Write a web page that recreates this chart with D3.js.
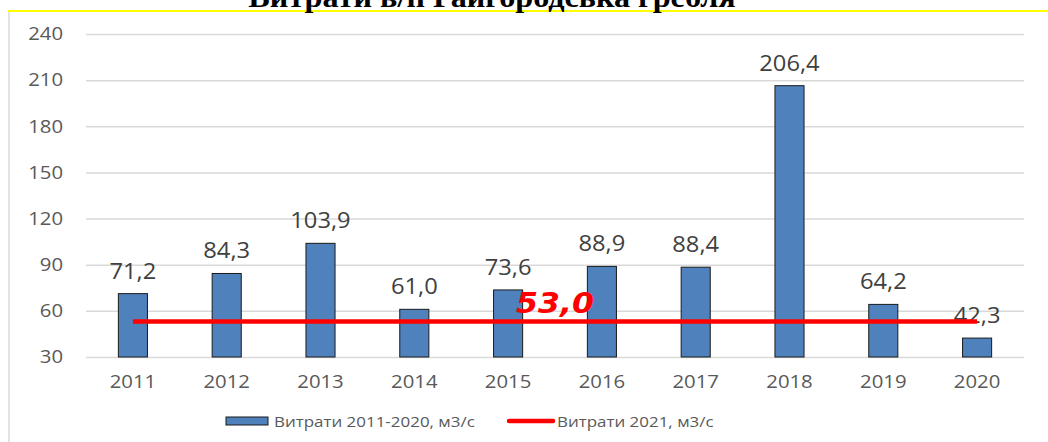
<!DOCTYPE html>
<html>
<head>
<meta charset="utf-8">
<script src="https://cdn.jsdelivr.net/npm/d3@7"></script>
<style>
  body { margin: 0; background: #fff; }
  svg { display: block; }
</style>
</head>
<body>
<svg id="chart" width="1048" height="442"></svg>
<script>
// chart data
var years = ['2011', '2012', '2013', '2014', '2015', '2016', '2017', '2018', '2019', '2020']
var flow = [71.2, 84.3, 103.9, 61.0, 73.6, 88.9, 88.4, 206.4, 64.2, 42.3]
var flow2021 = 53.0
var yTicks = [30, 60, 90, 120, 150, 180, 210, 240]
var titleText = 'Витрати в/п Гайгородська гребля'
var legendBars = 'Витрати 2011-2020, м3/с'
var legendLine = 'Витрати 2021, м3/с'

var svg = d3.select('#chart')
var font = "'Open Sans', 'DejaVu Sans', sans-serif"
var fmt = function (v) { return v.toFixed(1).replace('.', ',') }

// the original picture is a bit wider than tall, so text gets stretched
// horizontally around its own anchor point
var SX = 1.13
function stretch(sel) {
        sel.attr('transform', function () {
                var x = +d3.select(this).attr('x') || 0
                return 'translate(' + x + ',0) scale(' + SX + ',1) translate(' + (-x) + ',0)'
        })
}

var x = d3.scaleBand().domain(years).range([86, 1024]).paddingInner(0.69).paddingOuter(0.345)
var y = d3.scaleLinear().domain([30, 240]).range([357, 34])

// frame: yellow top border, grey left border
svg.append('line').attr('x1', 8).attr('x2', 1048).attr('y1', 11).attr('y2', 11)
        .attr('stroke', '#ffff00').attr('stroke-width', 2)
svg.append('line').attr('x1', 9).attr('x2', 9).attr('y1', 12).attr('y2', 442)
        .attr('stroke', '#d9d9d9').attr('stroke-width', 1.5)

// title, clipped by the top edge like in the original
svg.append('text').attr('x', 492).attr('y', 7).attr('text-anchor', 'middle')
        .attr('font-family', "'Liberation Serif', serif").attr('font-weight', 'bold')
        .attr('font-size', 28.5).attr('fill', '#000').text(titleText)
        .call(stretch)

// grid + y axis
var yAxis = d3.axisLeft(y).tickValues(yTicks).tickSize(-(1024 - 86))
var gy = svg.append('g').attr('transform', 'translate(86,0)').call(yAxis)
gy.select('.domain').remove()
gy.selectAll('.tick line').attr('stroke', '#d9d9d9').attr('stroke-width', 1.5)
gy.selectAll('.tick text').attr('x', -23).attr('font-family', font).attr('font-size', 18)
        .attr('fill', '#595959').call(stretch)

// x axis labels
var xAxis = d3.axisBottom(x).tickSize(0)
var gx = svg.append('g').attr('transform', 'translate(0,357)').call(xAxis)
gx.select('.domain').remove()
gx.selectAll('.tick text').attr('y', 31).attr('dy', null).attr('font-family', font)
        .attr('font-size', 18).attr('fill', '#595959').call(stretch)

// bars
svg.append('g').selectAll('rect').data(flow).enter().append('rect')
        .attr('x', function (d, i) { return x(years[i]) })
        .attr('y', function (d) { return y(d) })
        .attr('width', x.bandwidth())
        .attr('height', function (d) { return y(30) - y(d) })
        .attr('fill', '#4f81bd').attr('stroke', '#1a1a1a').attr('stroke-width', 1)

// bar value labels
svg.append('g').selectAll('text').data(flow).enter().append('text')
        .attr('x', function (d, i) { return x(years[i]) + x.bandwidth() / 2 })
        .attr('y', function (d) { return y(d) - 15 })
        .attr('text-anchor', 'middle').attr('font-family', font).attr('font-size', 21)
        .attr('fill', '#404040').text(fmt)
        .call(stretch)

// 2021 line
var line = d3.line()
        .x(function (d) { return x(d) + x.bandwidth() / 2 })
        .y(function () { return y(flow2021) })
svg.append('path').datum(years).attr('d', line)
        .attr('stroke', '#ff0000').attr('stroke-width', 4.5).attr('fill', 'none')

svg.append('text').attr('x', 555).attr('y', y(flow2021) - 9).attr('text-anchor', 'middle')
        .attr('font-family', "'DejaVu Sans', sans-serif").attr('font-weight', 'bold')
        .attr('font-style', 'italic').attr('font-size', 28).attr('fill', '#ff0000')
        .text(fmt(flow2021))
        .call(stretch)

// legend
var lg = svg.append('g').attr('font-family', font).attr('font-size', 15).attr('fill', '#595959')
lg.append('rect').attr('x', 226).attr('y', 417).attr('width', 42).attr('height', 8)
        .attr('fill', '#4f81bd').attr('stroke', '#1a1a1a').attr('stroke-width', 1)
lg.append('text').attr('x', 274).attr('y', 427).text(legendBars).call(stretch)
lg.append('line').attr('x1', 509).attr('x2', 553).attr('y1', 421).attr('y2', 421)
        .attr('stroke', '#ff0000').attr('stroke-width', 4.5).attr('stroke-linecap', 'round')
lg.append('text').attr('x', 557).attr('y', 427).text(legendLine).call(stretch)
</script>
</body>
</html>
